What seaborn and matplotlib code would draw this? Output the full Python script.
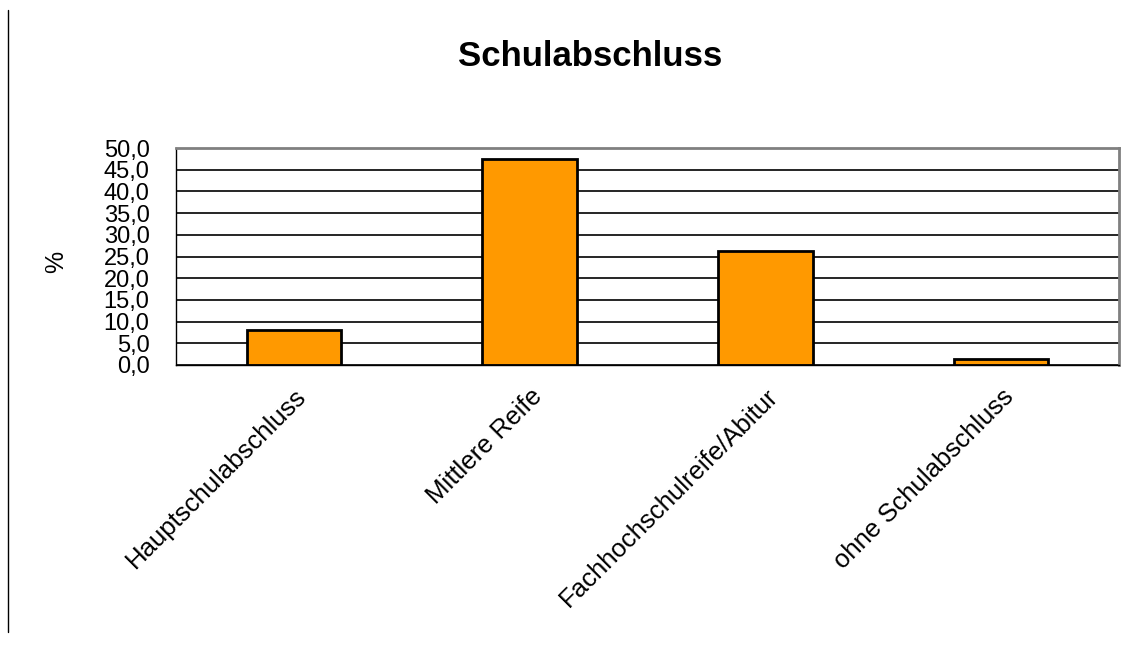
import matplotlib
matplotlib.use("Agg")
import matplotlib.pyplot as plt
from matplotlib.lines import Line2D
from matplotlib.ticker import FuncFormatter, FixedLocator
import seaborn as sns
import pandas as pd

categories = ["Hauptschulabschluss", "Mittlere Reife", "Fachhochschulreife/Abitur", "ohne Schulabschluss"]
values = [8.1, 47.4, 26.3, 1.4]
y_ticks = [0, 5, 10, 15, 20, 25, 30, 35, 40, 45, 50]

sns.set_style("white")
plt.rcParams["font.family"] = ["Liberation Sans", "DejaVu Sans"]
plt.rcParams["text.color"] = "black"
plt.rcParams["xtick.color"] = "black"
plt.rcParams["ytick.color"] = "black"
plt.rcParams["axes.labelcolor"] = "black"

df = pd.DataFrame({"abschluss": categories, "prozent": values})

fig = plt.figure(figsize=(11.37, 6.47), dpi=100)
ax = fig.add_axes([176 / 1137, 1 - 365 / 647, (1119 - 176) / 1137, (365 - 148) / 647])

sns.barplot(data=df, x="abschluss", y="prozent", color="#FF9900",
            edgecolor="black", linewidth=2, width=0.4, saturation=1, ax=ax)

ax.set_ylim(0, 50)
ax.set_xlim(-0.5, len(categories) - 0.5)
ax.yaxis.set_major_locator(FixedLocator(y_ticks))
ax.yaxis.set_major_formatter(FuncFormatter(lambda v, p: f"{v:.1f}".replace(".", ",")))
ax.grid(axis="y", color="black", linewidth=1.2)
ax.set_axisbelow(True)

# category ticks sit between the bars
ax.set_xticks([i - 0.5 for i in range(len(categories) + 1)], minor=True)
ax.tick_params(axis="x", which="minor", length=8, width=1, color="black", direction="out")
ax.tick_params(axis="x", which="major", length=0, pad=14)
ax.tick_params(axis="y", length=7, width=1, color="black", direction="out", pad=12, labelsize=17)
ax.set_xticks(range(len(categories)))
ax.set_xticklabels(categories, rotation=45, ha="right", rotation_mode="anchor", fontsize=18.5)

for side in ["left", "bottom"]:
    ax.spines[side].set_color("black")
    ax.spines[side].set_linewidth(1)
ax.spines["top"].set_color("#808080")
ax.spines["top"].set_linewidth(2)
ax.spines["right"].set_color("#808080")
ax.spines["right"].set_linewidth(2)

ax.set_xlabel("")
ax.set_ylabel("%", fontsize=18)
ax.yaxis.set_label_coords(-108 / (1119 - 176), (365 - 262) / (365 - 148))

fig.text(590 / 1137, 1 - 57 / 647, "Schulabschluss", ha="center", va="center",
         fontsize=25, fontweight="bold")

fig.add_artist(Line2D([8 / 1137, 8 / 1137], [1 - 10 / 647, 1 - 632 / 647],
                      transform=fig.transFigure, color="black", linewidth=1))

fig.savefig("out.png", dpi=100, facecolor="white")
